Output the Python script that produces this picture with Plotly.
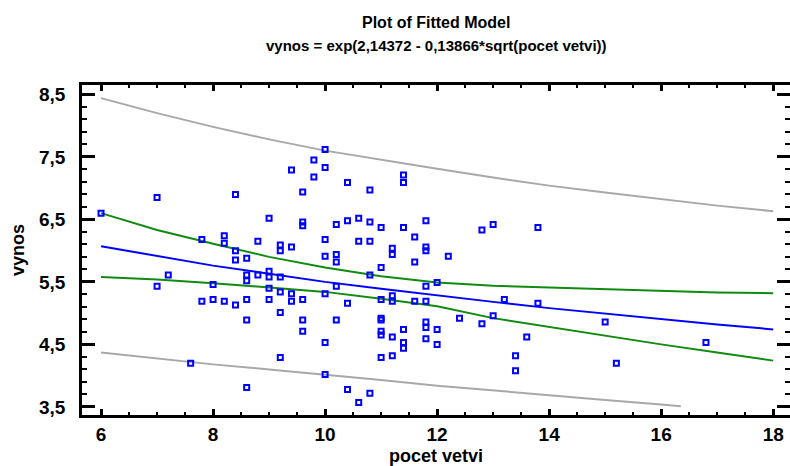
import plotly.graph_objects as go

# Observed data (pocet vetvi, vynos)
obs_x = [6.0, 7.0, 7.0, 7.2, 7.6, 7.8, 7.8, 8.0, 8.0, 8.2, 8.2, 8.2, 8.4, 8.4, 8.4, 8.4,
         8.6, 8.6, 8.6, 8.6, 8.6, 8.6, 8.8, 8.8, 9.0, 9.0, 9.0, 9.0, 9.0,
         9.2, 9.2, 9.2, 9.2, 9.2, 9.2, 9.4, 9.4, 9.4, 9.4,
         9.6, 9.6, 9.6, 9.6, 9.6, 9.6, 9.8, 9.8,
         10.0, 10.0, 10.0, 10.0, 10.0, 10.0, 10.0,
         10.2, 10.2, 10.2, 10.2, 10.2, 10.4, 10.4, 10.4, 10.4, 10.6, 10.6, 10.6,
         10.8, 10.8, 10.8, 10.8, 10.8,
         11.0, 11.0, 11.0, 11.0, 11.0, 11.0, 11.0, 11.0,
         11.2, 11.2, 11.2, 11.2, 11.2, 11.2, 11.4, 11.4, 11.4, 11.4, 11.4, 11.4,
         11.6, 11.6, 11.6, 11.8, 11.8, 11.8, 11.8, 11.8, 11.8, 11.8, 11.8,
         12.0, 12.0, 12.0, 12.2, 12.4, 12.8, 12.8, 13.0, 13.0, 13.2, 13.4, 13.4,
         13.6, 13.8, 13.8, 15.0, 15.2, 16.8]
obs_y = [6.60, 6.85, 5.43, 5.61, 4.20, 6.18, 5.19, 5.46, 5.22, 6.24, 6.12, 5.19, 6.90, 6.00, 5.85, 5.13,
         5.88, 5.61, 5.52, 5.22, 4.89, 3.81, 6.15, 5.61, 6.52, 5.67, 5.58, 5.40, 5.22,
         6.09, 6.00, 5.58, 5.34, 5.01, 4.29, 7.29, 6.06, 5.31, 5.19,
         6.94, 6.46, 6.40, 5.22, 4.89, 4.71, 7.45, 7.18,
         7.62, 7.33, 6.18, 5.91, 5.31, 4.53, 4.02,
         6.42, 5.94, 5.82, 5.43, 4.89, 7.09, 6.48, 5.16, 3.78, 6.52, 6.15, 3.57,
         6.97, 6.46, 6.15, 5.61, 3.72,
         6.37, 5.73, 5.22, 4.92, 4.89, 4.71, 4.65, 4.29,
         6.04, 5.94, 5.28, 5.19, 4.62, 4.32, 7.21, 7.09, 6.37, 4.74, 4.53, 4.44,
         6.22, 5.82, 5.19, 6.48, 6.06, 6.00, 5.43, 5.19, 4.86, 4.77, 4.59,
         5.49, 4.74, 4.50, 5.91, 4.92, 6.33, 4.83, 6.42, 4.96, 5.22, 4.32, 4.08,
         4.62, 6.37, 5.16, 4.86, 4.20, 4.53]

# Lines
line_x = [6, 7, 8, 9, 10, 11, 12, 13, 14, 15, 16, 17, 18]
fit_y = [6.07, 5.91, 5.76, 5.63, 5.50, 5.39, 5.28, 5.18, 5.08, 4.99, 4.90, 4.82, 4.74]
conf_up = [6.60, 6.33, 6.11, 5.90, 5.73, 5.59, 5.49, 5.44, 5.41, 5.38, 5.35, 5.33, 5.32]
conf_lo = [5.58, 5.54, 5.48, 5.41, 5.34, 5.23, 5.11, 4.92, 4.78, 4.63, 4.50, 4.37, 4.24]
pred_up = [8.44, 8.20, 7.98, 7.78, 7.60, 7.45, 7.31, 7.17, 7.04, 6.93, 6.82, 6.72, 6.63]
pred_lo_x = [6, 7, 8, 9, 10, 11, 12, 13, 14, 15, 16, 16.35]
pred_lo = [4.37, 4.27, 4.18, 4.10, 4.02, 3.93, 3.84, 3.76, 3.69, 3.61, 3.54, 3.51]

x_ticks = [6, 8, 10, 12, 14, 16, 18]
x_labels = ["6", "8", "10", "12", "14", "16", "18"]
y_ticks = [3.5, 4.5, 5.5, 6.5, 7.5, 8.5]
y_labels = ["3,5", "4,5", "5,5", "6,5", "7,5", "8,5"]

title_1 = "Plot of Fitted Model"
title_2 = "vynos = exp(2,14372 - 0,13866*sqrt(pocet vetvi))"
x_title = "pocet vetvi"
y_title = "vynos"

FONT = "Liberation Sans, Arial, sans-serif"
GREY = "#A8A8A8"
GREEN = "#108A10"
BLUE = "#0000FF"
W, H = 790, 466
L, R, T, B = 82, 0, 85, 51

fig = go.Figure()
fig.add_trace(go.Scatter(x=line_x, y=pred_up, mode="lines", line=dict(color=GREY, width=2)))
fig.add_trace(go.Scatter(x=pred_lo_x, y=pred_lo, mode="lines", line=dict(color=GREY, width=2)))
fig.add_trace(go.Scatter(x=line_x, y=conf_up, mode="lines", line=dict(color=GREEN, width=2)))
fig.add_trace(go.Scatter(x=line_x, y=conf_lo, mode="lines", line=dict(color=GREEN, width=2)))
fig.add_trace(go.Scatter(x=line_x, y=fit_y, mode="lines", line=dict(color=BLUE, width=2)))
fig.add_trace(go.Scatter(x=obs_x, y=obs_y, mode="markers",
                         marker=dict(symbol="square-open", size=5, color=BLUE,
                                     line=dict(color=BLUE, width=2))))


def px_x(p):
    # pixel column -> paper x (paper spans the plot area)
    return (p - L) / (W - L - R)


def px_y(p):
    # pixel row -> paper y
    return (H - B - p) / (H - T - B)


annotations = [
    dict(text="<b>" + title_1 + "</b>", x=px_x(436), y=px_y(23), xref="paper", yref="paper",
         xanchor="center", yanchor="middle", showarrow=False,
         font=dict(family=FONT, size=16, color="black")),
    dict(text="<b>" + title_2 + "</b>", x=px_x(436), y=px_y(45), xref="paper", yref="paper",
         xanchor="center", yanchor="middle", showarrow=False,
         font=dict(family=FONT, size=15, color="black")),
    dict(text="<b>" + x_title + "</b>", x=px_x(436), y=px_y(456), xref="paper", yref="paper",
         xanchor="center", yanchor="middle", showarrow=False,
         font=dict(family=FONT, size=18, color="black")),
    dict(text="<b>" + y_title + "</b>", x=px_x(18), y=px_y(250), xref="paper", yref="paper",
         xanchor="center", yanchor="middle", showarrow=False, textangle=-90,
         font=dict(family=FONT, size=18, color="black")),
]

fig.update_layout(
    width=W, height=H,
    margin=dict(l=L, r=R, t=T, b=B, autoexpand=False),
    paper_bgcolor="white", plot_bgcolor="white",
    showlegend=False,
    font=dict(family=FONT, color="black"),
    annotations=annotations,
)
fig.update_xaxes(
    range=[5.66, 18.30], tickvals=x_ticks, ticktext=x_labels,
    showgrid=False, zeroline=False, automargin=False,
    showline=True, linecolor="black", linewidth=2.5, mirror="ticks",
    ticks="inside", ticklen=6, tickwidth=2.5, tickcolor="black",
    minor=dict(dtick=0.5, tick0=6, ticks="inside", ticklen=3, tickwidth=2, tickcolor="black"),
    tickfont=dict(family=FONT, size=19, color="black", weight="bold"),
    ticklabelstandoff=0,
)
fig.update_yaxes(
    range=[3.37, 8.65], tickvals=y_ticks, ticktext=y_labels,
    showgrid=False, zeroline=False, automargin=False,
    showline=True, linecolor="black", linewidth=2.5, mirror="ticks",
    ticks="inside", ticklen=13, tickwidth=2.5, tickcolor="black",
    minor=dict(dtick=0.2, tick0=3.5, ticks="inside", ticklen=5, tickwidth=2, tickcolor="black"),
    tickfont=dict(family=FONT, size=19, color="black", weight="bold"),
    ticklabelstandoff=10,
)

fig.write_html("out.html", config={"displayModeBar": False},
               post_script="document.body.style.margin='0';")
